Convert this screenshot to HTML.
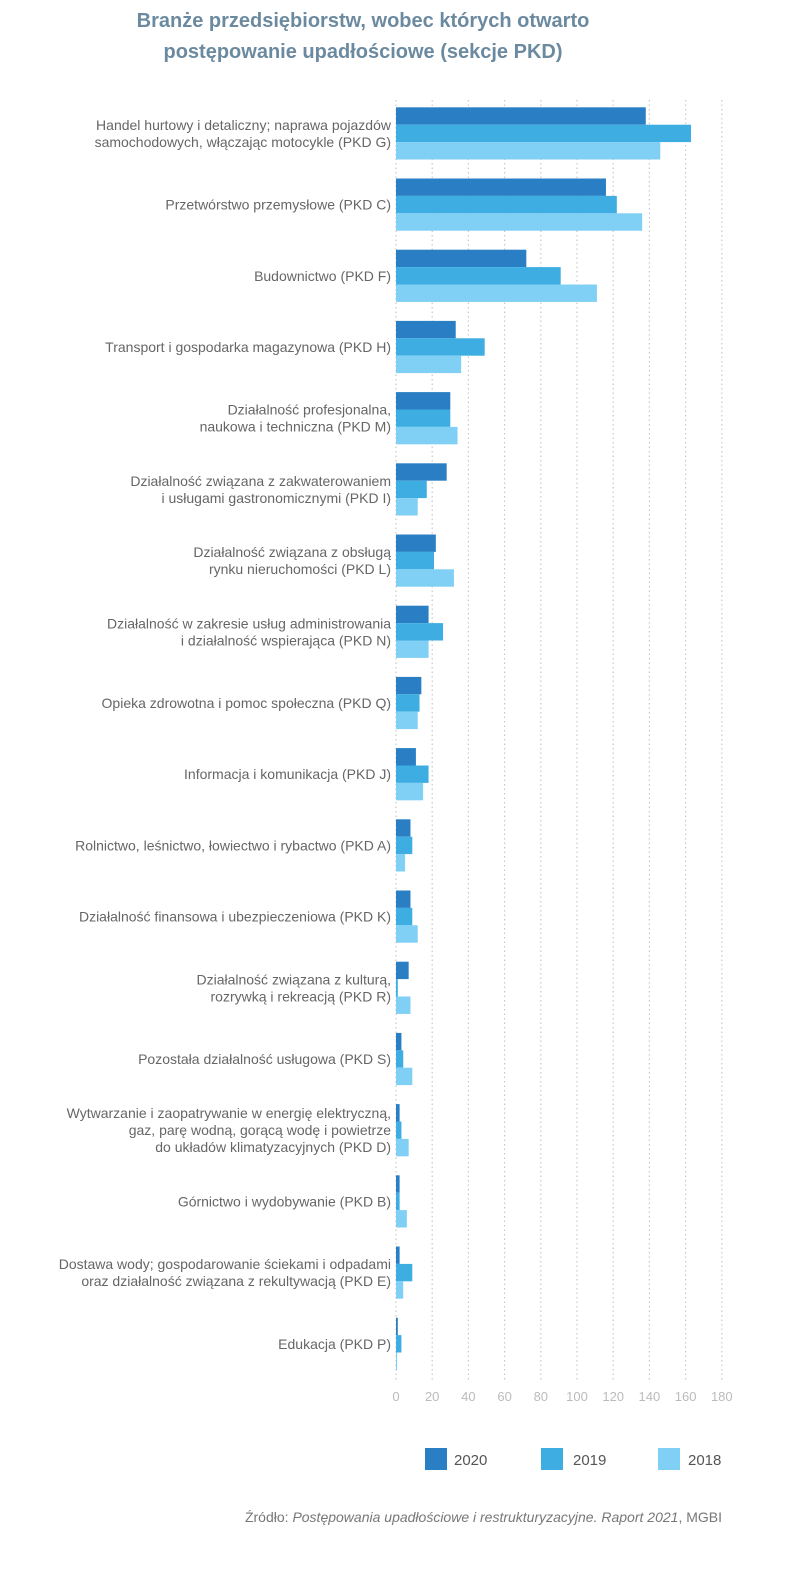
<!DOCTYPE html>
<html><head><meta charset="utf-8"><style>
html,body{margin:0;padding:0;background:#fff;}
svg{display:block;font-family:"Liberation Sans",sans-serif;}
</style></head><body>
<svg id="c" width="800" height="1591" viewBox="0 0 800 1591" xmlns="http://www.w3.org/2000/svg">
<text x="363" y="27" text-anchor="middle" font-size="20" font-weight="bold" fill="#6b8aa0">Branże przedsiębiorstw, wobec których otwarto</text>
<text x="363" y="58" text-anchor="middle" font-size="20" font-weight="bold" fill="#6b8aa0">postępowanie upadłościowe (sekcje PKD)</text>
<g id="grid"></g>
<g id="bars"></g>
<g id="labels" font-size="14" fill="#666" text-anchor="end"></g>
<g id="ticks" font-size="13" fill="#bbb" text-anchor="middle"></g>
<rect x="425" y="1448" width="22" height="22" fill="#2a7fc4"/>
<text x="454" y="1465" font-size="15" fill="#555">2020</text>
<rect x="541" y="1448" width="22" height="22" fill="#3eaee2"/>
<text x="573" y="1465" font-size="15" fill="#555">2019</text>
<rect x="658" y="1448" width="22" height="22" fill="#80cff5"/>
<text x="688" y="1465" font-size="15" fill="#555">2018</text>
<text x="722" y="1522" text-anchor="end" font-size="14" fill="#777"><tspan>Źródło: </tspan><tspan font-style="italic">Postępowania upadłościowe i restrukturyzacyjne. Raport 2021</tspan><tspan>, MGBI</tspan></text>
</svg>
<script>
var NS="http://www.w3.org/2000/svg";
function el(p,t,a,txt){var e=document.createElementNS(NS,t);for(var k in a)e.setAttribute(k,a[k]);if(txt!==undefined)e.textContent=txt;document.getElementById(p).appendChild(e);return e;}
var x0=396,s=1.81;
for(var v=0;v<=180;v+=20){var x=x0+v*s;el("grid","line",{x1:x,x2:x,y1:100,y2:1380,stroke:"#c8c8c8","stroke-width":1.2,"stroke-dasharray":"1.5,3"});el("ticks","text",{x:x,y:1401},String(v));}
var d=[
[["Handel hurtowy i detaliczny; naprawa pojazdów","samochodowych, włączając motocykle (PKD G)"],138,163,146],
[["Przetwórstwo przemysłowe (PKD C)"],116,122,136],
[["Budownictwo (PKD F)"],72,91,111],
[["Transport i gospodarka magazynowa (PKD H)"],33,49,36],
[["Działalność profesjonalna,","naukowa i techniczna (PKD M)"],30,30,34],
[["Działalność związana z zakwaterowaniem","i usługami gastronomicznymi (PKD I)"],28,17,12],
[["Działalność związana z obsługą","rynku nieruchomości (PKD L)"],22,21,32],
[["Działalność w zakresie usług administrowania","i działalność wspierająca (PKD N)"],18,26,18],
[["Opieka zdrowotna i pomoc społeczna (PKD Q)"],14,13,12],
[["Informacja i komunikacja (PKD J)"],11,18,15],
[["Rolnictwo, leśnictwo, łowiectwo i rybactwo (PKD A)"],8,9,5],
[["Działalność finansowa i ubezpieczeniowa (PKD K)"],8,9,12],
[["Działalność związana z kulturą,","rozrywką i rekreacją (PKD R)"],7,1,8],
[["Pozostała działalność usługowa (PKD S)"],3,4,9],
[["Wytwarzanie i zaopatrywanie w energię elektryczną,","gaz, parę wodną, gorącą wodę i powietrze","do układów klimatyzacyjnych (PKD D)"],2,3,7],
[["Górnictwo i wydobywanie (PKD B)"],2,2,6],
[["Dostawa wody; gospodarowanie ściekami i odpadami","oraz działalność związana z rekultywacją (PKD E)"],2,9,4],
[["Edukacja (PKD P)"],1,3,0.6]];
var cols=["#2a7fc4","#3eaee2","#80cff5"];
d.forEach(function(g,i){var top=107.3+71.2*i;
for(var j=0;j<3;j++)el("bars","rect",{x:x0,y:top+j*17.4,width:Math.max(g[j+1]*s,1),height:17.4,fill:cols[j]});
var n=g[0].length,c=top+26.1;
g[0].forEach(function(t,k){el("labels","text",{x:391,y:c+(k-(n-1)/2)*17+5},t);});});
</script>
</body></html>
